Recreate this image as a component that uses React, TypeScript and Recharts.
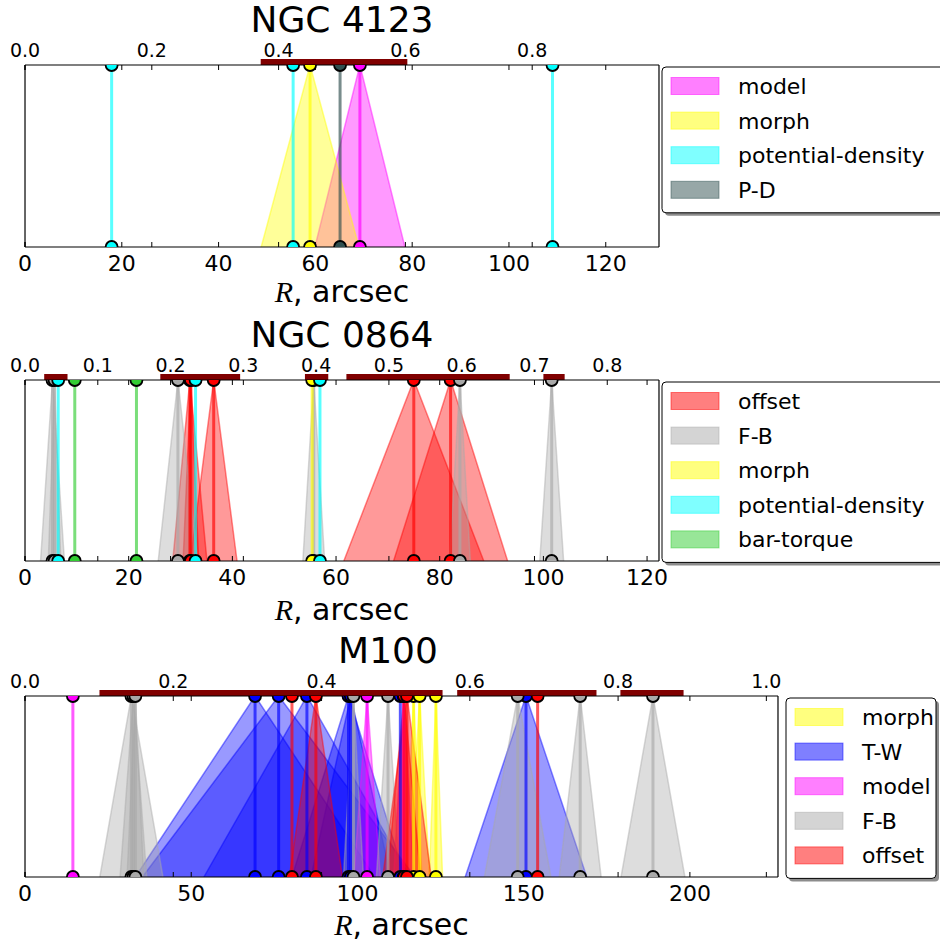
import React from 'react'
import { ComposedChart, Area, Line, XAxis, YAxis, ReferenceArea } from 'recharts'

// each estimate: [R in arcsec, half-width of its interval]
type Est = [number, number]

// ---- NGC 4123
const n4123Model: Est[] = [[69.2, 9.3]]
const n4123Morph: Est[] = [[58.9, 10.1]]
const n4123PotDens: Est[] = [[17.9, 0], [55.4, 0], [109.0, 0]]
const n4123PD: Est[] = [[65.1, 0]]
const n4123Ranges: [number, number][] = [[48.7, 79.0]]
const n4123Ticks = [0, 20, 40, 60, 80, 100, 120]
const n4123TopTicks = [0, 0.2, 0.4, 0.6, 0.8]

// ---- NGC 0864
const n0864Offset: Est[] = [[31.8, 3.3], [32.0, 1.5], [36.4, 4.5], [75.0, 13.5], [82.1, 11.0]]
const n0864FB: Est[] = [[5.3, 2.3], [5.7, 1.2], [29.5, 3.8], [55.7, 2.1], [83.9, 2.0], [101.6, 2.3]]
const n0864Morph: Est[] = [[55.4, 0]]
const n0864PotDens: Est[] = [[6.4, 0], [32.9, 0], [56.9, 0]]
const n0864Torque: Est[] = [[9.6, 0], [21.5, 0]]
const n0864Ranges: [number, number][] = [[3.7, 8.2], [26.1, 41.5], [54.0, 58.5], [62.0, 93.5], [100.0, 104.1]]
const n0864Ticks = [0, 20, 40, 60, 80, 100, 120]
const n0864TopTicks = [0, 0.1, 0.2, 0.3, 0.4, 0.5, 0.6, 0.7, 0.8]

// ---- M100
const m100Morph: Est[] = [[116.9, 2.5], [118.7, 3.0], [123.6, 2.0]]
const m100TW: Est[] = [[69.2, 36.0], [76.3, 41.0], [84.8, 31.0], [97.3, 17.0], [98.0, 12.0], [112.9, 0], [150.7, 18.3]]
const m100Model: Est[] = [[14.4, 0], [102.9, 4.0], [113.9, 3.0]]
const m100FB: Est[] = [[32.0, 9.5], [32.6, 4.0], [33.2, 2.5], [98.8, 3.0], [109.2, 3.5], [148.2, 10.0], [167.0, 6.3], [188.9, 9.6]]
const m100Offset: Est[] = [[80.3, 0], [87.5, 8.0], [114.0, 5.0], [114.9, 7.3], [154.2, 0]]
const m100Ranges: [number, number][] = [[22.4, 125.6], [130.0, 171.9], [179.1, 198.1]]
const m100Ticks = [0, 50, 100, 150, 200]
const m100TopTicks = [0, 0.2, 0.4, 0.6, 0.8, 1.0]

const COLORS: Record<string, string> = {
  model: '#ff00ff',
  morph: '#ffff00',
  'potential-density': '#00ffff',
  'P-D': '#2f4f4f',
  offset: '#ff0000',
  'F-B': '#a9a9a9',
  'bar-torque': '#32cd32',
  'T-W': '#0000ff',
}

const FONT = '"DejaVu Sans", sans-serif'

interface Series {
  name: string
  items: Est[]
}

interface PanelCfg {
  title: string
  titleX: number
  series: Series[]
  ranges: [number, number][]
  xMax: number
  r25: number
  ticks: number[]
  topTicks: number[]
  spineTop: number
  spineBottom: number
  spineRight: number
  xlabelGap: number
  legendX: number
  legendW: number
}

const panels: PanelCfg[] = [
  {
    title: 'NGC 4123',
    titleX: 342,
    series: [
      { name: 'model', items: n4123Model },
      { name: 'morph', items: n4123Morph },
      { name: 'potential-density', items: n4123PotDens },
      { name: 'P-D', items: n4123PD },
    ],
    ranges: n4123Ranges,
    xMax: 131,
    r25: 131,
    ticks: n4123Ticks,
    topTicks: n4123TopTicks,
    spineTop: 65,
    spineBottom: 247,
    spineRight: 659,
    xlabelGap: 55,
    legendX: 662,
    legendW: 300,
  },
  {
    title: 'NGC 0864',
    titleX: 342,
    series: [
      { name: 'offset', items: n0864Offset },
      { name: 'F-B', items: n0864FB },
      { name: 'morph', items: n0864Morph },
      { name: 'potential-density', items: n0864PotDens },
      { name: 'bar-torque', items: n0864Torque },
    ],
    ranges: n0864Ranges,
    xMax: 122.3,
    r25: 140.4,
    ticks: n0864Ticks,
    topTicks: n0864TopTicks,
    spineTop: 380,
    spineBottom: 561,
    spineRight: 659,
    xlabelGap: 59,
    legendX: 662,
    legendW: 300,
  },
  {
    title: 'M100',
    titleX: 388,
    series: [
      { name: 'morph', items: m100Morph },
      { name: 'T-W', items: m100TW },
      { name: 'model', items: m100Model },
      { name: 'F-B', items: m100FB },
      { name: 'offset', items: m100Offset },
    ],
    ranges: m100Ranges,
    xMax: 226.5,
    r25: 223,
    ticks: m100Ticks,
    topTicks: m100TopTicks,
    spineTop: 696,
    spineBottom: 877,
    spineRight: 778,
    xlabelGap: 58,
    legendX: 786,
    legendW: 150,
  },
]

function Panel({ p }: { p: PanelCfg }) {
  const plotH = p.spineBottom - p.spineTop
  const chartTop = p.spineTop - 70
  const chartW = p.spineRight + 20
  const chartH = plotH + 140
  const barTop = 1 + 6 / plotH
  const topMax = p.xMax / p.r25

  const tickLine = { stroke: '#000', strokeWidth: 1 }
  const spine = { stroke: '#000', strokeWidth: 1.2 }
  // axes without series of their own take their domain from this
  const axisData = p.ticks.map((t) => ({ x: t }))

  const areas: React.ReactNode[] = []
  const lines: React.ReactNode[] = []
  p.series.forEach((s) => {
    const c = COLORS[s.name]
    s.items.forEach(([r, e], i) => {
      if (e > 0) {
        areas.push(
          <Area
            key={`a-${s.name}-${i}`}
            xAxisId="r"
            data={[
              { x: r - e, y: 0 },
              { x: r, y: 1 },
              { x: r + e, y: 0 },
            ]}
            dataKey="y"
            type="linear"
            fill={c}
            fillOpacity={0.4}
            stroke={c}
            strokeOpacity={0.45}
            strokeWidth={1.5}
            dot={false}
            activeDot={false}
            isAnimationActive={false}
          />,
        )
      }
      lines.push(
        <Line
          key={`l-${s.name}-${i}`}
          xAxisId="r"
          data={[
            { x: r, y: 0 },
            { x: r, y: 1 },
          ]}
          dataKey="y"
          type="linear"
          stroke={c}
          strokeOpacity={0.65}
          strokeWidth={3}
          dot={{ r: 6, fill: c, fillOpacity: 1, stroke: '#000', strokeOpacity: 1, strokeWidth: 1.8 }}
          activeDot={false}
          isAnimationActive={false}
        />,
      )
    })
  })

  return (
    <div style={{ position: 'absolute', left: 0, top: chartTop }}>
      <ComposedChart width={chartW} height={chartH} data={axisData} margin={{ top: 40, right: 20, bottom: 40, left: 25 }}>
        {/* inward tick marks on both spines, for both scales */}
        <XAxis xAxisId="rT" orientation="top" mirror height={0.01} type="number" dataKey="x" domain={[0, p.xMax]} allowDataOverflow
          ticks={p.ticks} interval={0} tickSize={5} tickLine={tickLine} axisLine={false} tickFormatter={() => ''} />
        <XAxis xAxisId="rB" orientation="bottom" mirror height={0.01} type="number" dataKey="x" domain={[0, p.xMax]} allowDataOverflow
          ticks={p.ticks} interval={0} tickSize={5} tickLine={tickLine} axisLine={false} tickFormatter={() => ''} />
        <XAxis xAxisId="nT" orientation="top" mirror height={0.01} type="number" dataKey="x" domain={[0, topMax]} allowDataOverflow
          ticks={p.topTicks} interval={0} tickSize={5} tickLine={tickLine} axisLine={false} tickFormatter={() => ''} />
        <XAxis xAxisId="nB" orientation="bottom" mirror height={0.01} type="number" dataKey="x" domain={[0, topMax]} allowDataOverflow
          ticks={p.topTicks} interval={0} tickSize={5} tickLine={tickLine} axisLine={false} tickFormatter={() => ''} />

        <XAxis xAxisId="r" orientation="bottom" height={30} type="number" dataKey="x" domain={[0, p.xMax]} allowDataOverflow
          ticks={p.ticks} interval={0} tickSize={0} tickMargin={8} tickLine={false} axisLine={spine}
          tick={{ fontSize: 22, fill: '#000', fontFamily: FONT }} />
        <XAxis xAxisId="n" orientation="top" height={30} type="number" dataKey="x" domain={[0, topMax]} allowDataOverflow
          ticks={p.topTicks} interval={0} tickSize={0} tickMargin={8} tickLine={false} axisLine={spine}
          tick={{ fontSize: 19, fill: '#000', fontFamily: FONT }} tickFormatter={(v: number) => v.toFixed(1)} />
        <YAxis type="number" domain={[0, 1]} allowDataOverflow width={0.01} tick={false} tickLine={false} axisLine={spine} />
        <YAxis yAxisId="right" orientation="right" type="number" domain={[0, 1]} allowDataOverflow width={0.01}
          tick={false} tickLine={false} axisLine={spine} />

        {areas}
        {lines}

        {p.ranges.map(([a, b], i) => (
          <ReferenceArea key={`rg-${i}`} xAxisId="r" x1={a} x2={b} y1={1} y2={barTop}
            fill="#800000" fillOpacity={1} stroke="none" ifOverflow="visible" />
        ))}
      </ComposedChart>
    </div>
  )
}

function Decor({ p }: { p: PanelCfg }) {
  const cx = (25 + p.spineRight) / 2
  const lt = p.spineTop + 2
  const step = 34.6
  const boxH = 19 + (p.series.length - 1) * step + 23
  return (
    <g>
      <text x={p.titleX} y={p.spineTop - 33} textAnchor="middle" fontSize={36} fontFamily={FONT} fill="#000">
        {p.title}
      </text>
      <text x={cx} y={p.spineBottom + p.xlabelGap} textAnchor="middle" fontSize={30} fontFamily={FONT} fill="#000">
        <tspan fontFamily='"Liberation Serif", serif' fontStyle="italic">R</tspan>, arcsec
      </text>
      <rect x={p.legendX + 3} y={lt + 3} width={p.legendW} height={boxH} rx={4} fill="#8c8c8c" />
      <rect x={p.legendX} y={lt} width={p.legendW} height={boxH} rx={4} fill="#fff" stroke="#000" strokeWidth={1} />
      {p.series.map((s, i) => {
        const cy = lt + 19 + i * step
        const c = COLORS[s.name]
        return (
          <g key={s.name}>
            <rect x={p.legendX + 9} y={cy - 8.5} width={48} height={17} fill={c} fillOpacity={0.5} stroke={c} strokeOpacity={0.5} />
            <text x={p.legendX + 76} y={cy + 8} fontSize={22} fontFamily={FONT} fill="#000">
              {s.name}
            </text>
          </g>
        )
      })}
    </g>
  )
}

export default function App() {
  return (
    <div style={{ position: 'absolute', left: 0, top: 0, width: 940, height: 943, background: '#fff', overflow: 'hidden' }}>
      {panels.map((p) => (
        <Panel key={p.title} p={p} />
      ))}
      <svg width={940} height={943} style={{ position: 'absolute', left: 0, top: 0, pointerEvents: 'none' }}>
        {panels.map((p) => (
          <Decor key={p.title} p={p} />
        ))}
      </svg>
    </div>
  )
}
